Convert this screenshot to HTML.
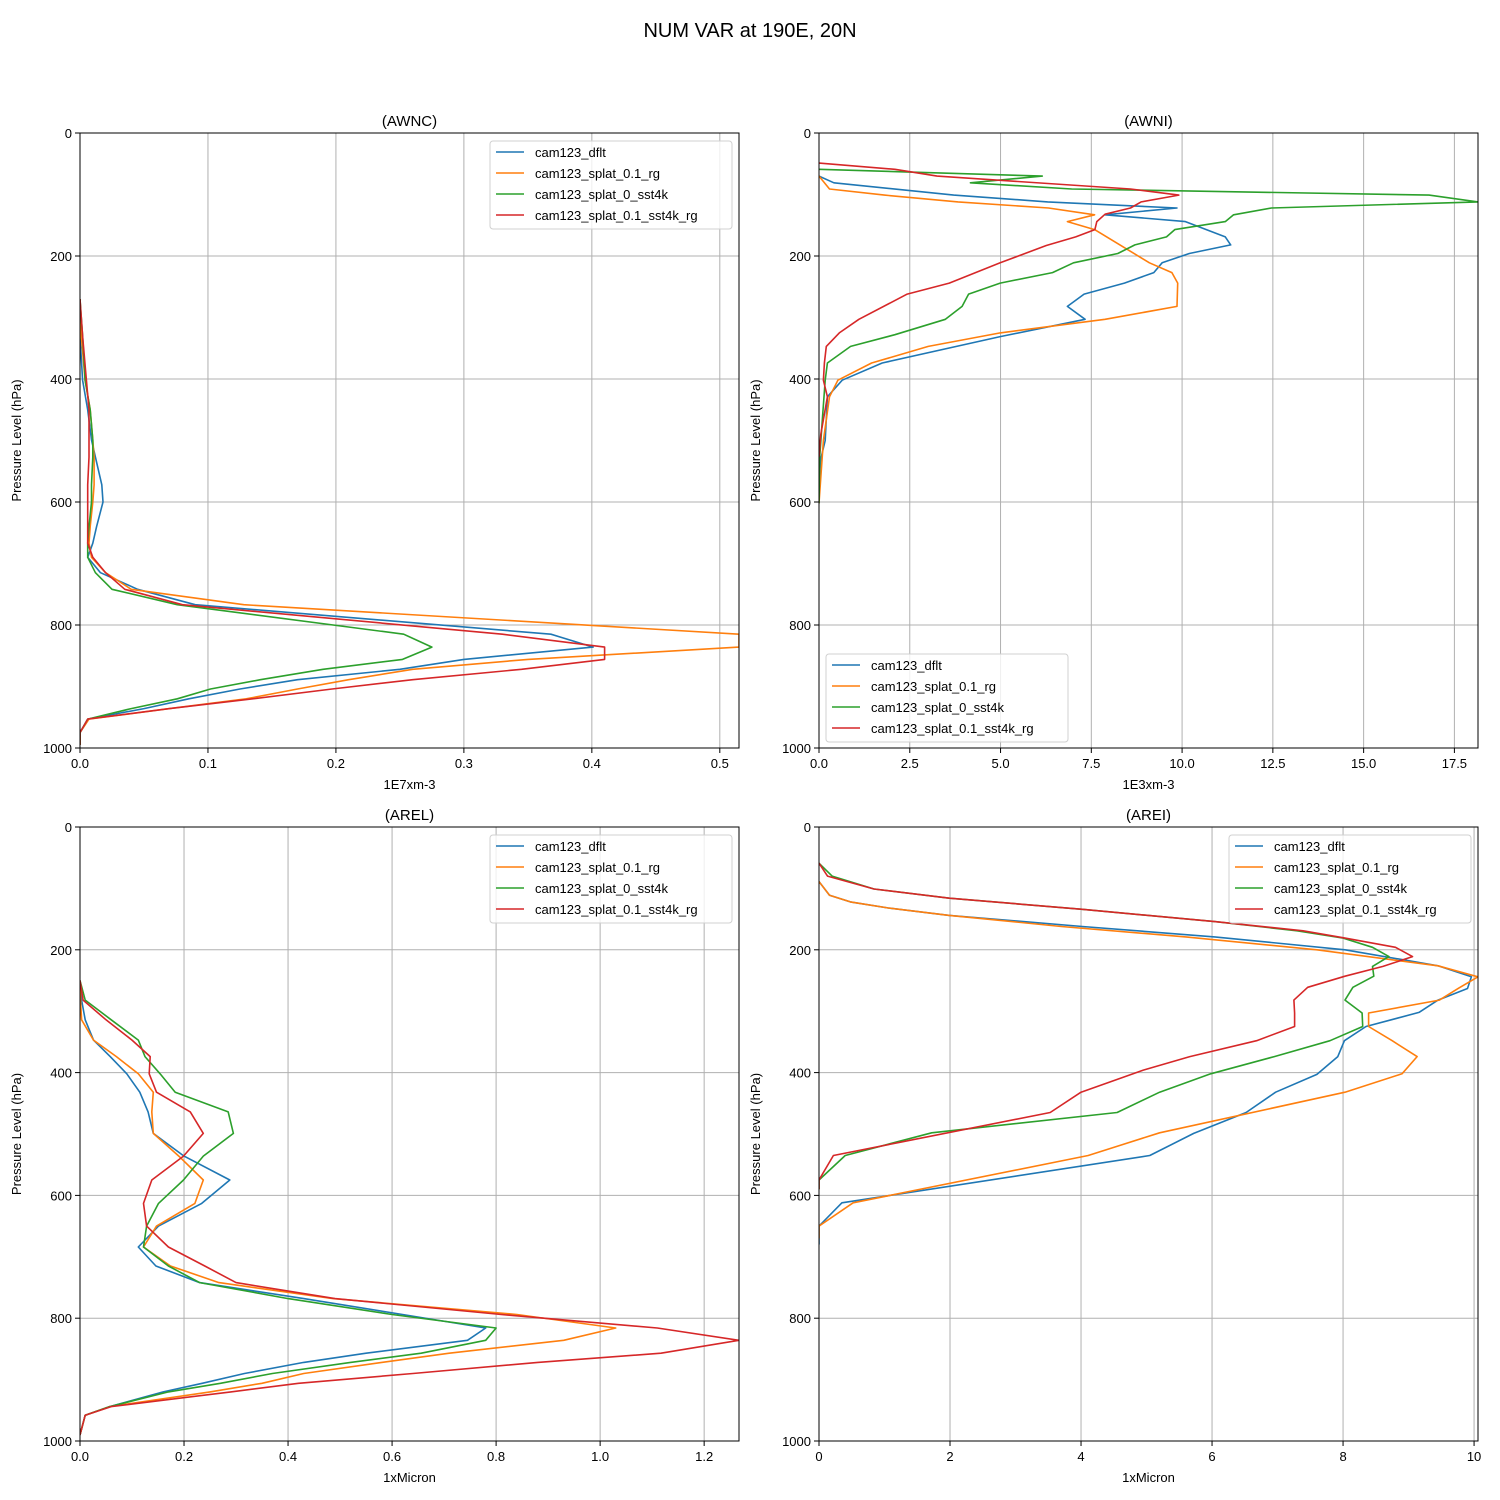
<!DOCTYPE html>
<html><head><meta charset="utf-8"><style>
html,body{margin:0;padding:0;background:#fff;}
svg{display:block;font-family:"Liberation Sans","DejaVu Sans",sans-serif;}
</style></head><body>
<svg id="fig" width="1500" height="1500" viewBox="0 0 1500 1500">
<rect width="1500" height="1500" fill="#fff"/>
<text x="750" y="37" font-size="20" text-anchor="middle">NUM VAR at 190E, 20N</text>
</svg>
<script>
// ---- AWNC data ----
const awncLevels=[270,330,402,450,499,527,572,600,640,667,690,715,742,767,815,836,856,872,889,904,920,936,953,975,995];
const awncBlue=[0,0,.002,.006,.009,.012,.017,.018,.013,.01,.006,.016,.045,.09,.368,.401,.3,.25,.17,.125,.085,.05,.006,0,0];
const awncOrange=[0,.001,.004,.008,.01,.011,.011,.01,.008,.007,.009,.02,.04,.128,.515,.515,.35,.26,.21,.17,.13,.07,.007,0,0];
const awncGreen=[0,.002,.004,.008,.01,.01,.009,.009,.007,.006,.006,.012,.025,.076,.253,.275,.252,.19,.141,.102,.076,.04,.006,0,0];
const awncRed=[0,.002,.005,.007,.007,.007,.006,.006,.006,.006,.01,.02,.035,.08,.33,.41,.41,.345,.26,.197,.135,.07,.006,0,0];
const awncTicks=[0,0.1,0.2,0.3,0.4,0.5];
const awncTickLabels=["0.0","0.1","0.2","0.3","0.4","0.5"];
// ---- AWNI data ----
const awniBlueP=[70,81,101,112,122,133,144,169,182,196,211,227,244,262,282,303,331,374,402,429,500,530,570,602];
const awniBlueV=[0,0.41,3.71,6.3,9.86,7.88,10.09,11.19,11.34,10.2,9.45,9.22,8.41,7.3,6.84,7.33,4.99,1.74,0.64,0.23,0.17,0.05,0,0];
const awniOrangeP=[70,91,101,112,122,133,144,157,211,227,244,282,303,325,347,374,402,429,500,602];
const awniOrangeV=[0,0.29,1.8,3.83,6.32,7.59,6.84,7.59,9.1,9.72,9.88,9.86,7.88,4.99,3.01,1.45,0.52,0.29,0.12,0];
const awniGreenP=[59,70,81,91,101,112,122,133,144,157,169,182,196,211,227,244,262,282,303,328,347,374,402,460,527,602];
const awniGreenV=[0,6.15,4.17,6.96,16.8,18.15,12.46,11.42,11.19,9.8,9.57,8.7,8.23,7.01,6.43,4.99,4.12,3.94,3.48,2.09,0.87,0.23,0.17,0.1,0.02,0];
const awniRedP=[49,59,70,91,101,112,122,132,144,157,169,183,211,244,262,303,325,347,374,402,429,490,527];
const awniRedV=[0,2.09,3.25,8.58,9.91,8.87,8.58,7.88,7.65,7.6,7.07,6.26,4.99,3.59,2.43,1.1,0.56,0.2,0.15,0.12,0.23,0.05,0];
const awniTicks=[0,2.5,5,7.5,10,12.5,15,17.5];
const awniTickLabels=["0.0","2.5","5.0","7.5","10.0","12.5","15.0","17.5"];
// ---- AREL data ----
const arelLevels=[250,282,314,347,374,402,432,464,499,536,575,613,650,684,715,742,768,794,816,836,857,872,890,906,920,944,958,990];
const arelBlue=[0,0.003,0.01,0.026,0.058,0.09,0.115,0.131,0.141,0.2,0.288,0.234,0.151,0.112,0.146,0.23,0.43,0.62,0.78,0.745,0.55,0.43,0.316,0.235,0.16,0.057,0.01,0];
const arelOrange=[0,0.001,0.003,0.026,0.07,0.112,0.141,0.138,0.141,0.19,0.237,0.221,0.147,0.122,0.174,0.267,0.486,0.84,1.03,0.93,0.71,0.58,0.43,0.35,0.25,0.057,0.01,0];
const arelGreen=[0,0.01,0.06,0.112,0.125,0.154,0.183,0.285,0.295,0.237,0.199,0.151,0.128,0.122,0.17,0.23,0.4,0.6,0.8,0.78,0.656,0.52,0.37,0.27,0.17,0.057,0.01,0];
const arelRed=[0,0.006,0.05,0.1,0.135,0.133,0.147,0.212,0.237,0.199,0.138,0.122,0.128,0.17,0.24,0.3,0.49,0.81,1.11,1.267,1.117,0.88,0.64,0.42,0.29,0.06,0.01,0];
const arelTicks=[0,0.2,0.4,0.6,0.8,1.0,1.2];
const arelTickLabels=["0.0","0.2","0.4","0.6","0.8","1.0","1.2"];
// ---- AREI data ----
const areiBlueP=[89,111,122,132,144,162,179,200,226,244,263,282,302,325,348,374,403,432,465,499,535,612,650,680];
const areiBlueV=[0,0.16,0.48,1.06,1.99,4.02,6.04,8.03,9.45,9.96,9.9,9.45,9.16,8.35,8.02,7.92,7.6,6.97,6.52,5.72,5.05,0.35,0,0];
const areiOrangeP=[89,111,122,132,144,162,179,200,226,244,262,282,303,325,348,374,402,432,498,535,612,650,670];
const areiOrangeV=[0,0.16,0.48,1.06,1.99,3.7,5.6,7.6,9.45,10.06,9.77,9.47,8.39,8.39,8.75,9.13,8.9,8.03,5.2,4.11,0.52,0,0];
const areiGreenP=[59,80,101,116,134,154,169,181,196,211,227,243,261,282,303,325,348,374,402,432,465,498,535,575,590];
const areiGreenV=[0,0.2,0.84,1.99,4.02,6.04,7.3,8.0,8.45,8.7,8.45,8.47,8.15,8.03,8.29,8.3,7.8,6.95,5.98,5.2,4.55,1.72,0.4,0,0];
const areiRedP=[59,80,101,116,134,154,169,181,196,211,227,243,261,282,303,325,348,374,396,432,465,535,575,590];
const areiRedV=[0,0.13,0.84,1.99,4.02,6.04,7.39,8.03,8.8,9.06,8.61,8.03,7.46,7.25,7.26,7.26,6.68,5.66,4.95,4.0,3.53,0.22,0,0];
const areiTicks=[0,2,4,6,8,10];
const areiTickLabels=["0","2","4","6","8","10"];
const yTicks=[0,200,400,600,800,1000];
const seriesNames=["cam123_dflt","cam123_splat_0.1_rg","cam123_splat_0_sst4k","cam123_splat_0.1_sst4k_rg"];
const colors=["#1f77b4","#ff7f0e","#2ca02c","#d62728"];

const NS="http://www.w3.org/2000/svg";
const fig=document.getElementById('fig');
function mk(tag,attrs,parent){const e=document.createElementNS(NS,tag);for(const k in attrs)e.setAttribute(k,attrs[k]);(parent||fig).appendChild(e);return e;}

function panel(id,title,box,xmax,xt,xtl,xlabel,series,legend){
  const g=mk('g',{});
  
  
  const sx=v=>box.x0+(v/xmax)*(box.x1-box.x0);
  const sy=p=>box.y0+(p/1000)*(box.y1-box.y0);
  xt.forEach((t,i)=>{
    const x=sx(t);
    const gl=mk('line',{x1:x,x2:x,y1:box.y0,y2:box.y1,stroke:'#b0b0b0','stroke-width':1},g);
    
    
    mk('line',{x1:x,x2:x,y1:box.y1,y2:box.y1+5,stroke:'#000','stroke-width':1},g);
    const tx=mk('text',{x:x,y:box.y1+20,'font-size':13,'text-anchor':'middle'},g);
    tx.textContent=xtl[i];
    
    
  });
  yTicks.forEach(t=>{
    const y=sy(t);
    const gl=mk('line',{x1:box.x0,x2:box.x1,y1:y,y2:y,stroke:'#b0b0b0','stroke-width':1},g);
    
    
    mk('line',{x1:box.x0-5,x2:box.x0,y1:y,y2:y,stroke:'#000','stroke-width':1},g);
    const tx=mk('text',{x:box.x0-8,y:y+5,'font-size':13,'text-anchor':'end'},g);
    tx.textContent=String(t);
    
    
  });
  const cp=mk('clipPath',{id:'clip-'+id},g);
  mk('rect',{x:box.x0,y:box.y0,width:box.x1-box.x0,height:box.y1-box.y0},cp);
  series.forEach((s,i)=>{
    const d=s.p.map((p,j)=>(j?'L':'M')+sx(s.v[j]).toFixed(1)+' '+sy(p).toFixed(1)).join(' ');
    const path=mk('path',{d:d,fill:'none',stroke:colors[i],'stroke-width':1.6,'stroke-linejoin':'round','clip-path':'url(#clip-'+id+')'},g);
    
    
  });
  const fr=mk('rect',{x:box.x0,y:box.y0,width:box.x1-box.x0,height:box.y1-box.y0,fill:'none',stroke:'#000','stroke-width':1},g);
  
  
  const tt=mk('text',{x:(box.x0+box.x1)/2,y:box.y0-7,'font-size':15,'text-anchor':'middle'},g);
  tt.textContent=title;
  
  
  const xl=mk('text',{x:(box.x0+box.x1)/2,y:box.y1+41,'font-size':13,'text-anchor':'middle'},g);
  xl.textContent=xlabel;
  
  
  const yc=(box.y0+box.y1)/2, yx=box.x0-59;
  const yl=mk('text',{x:yx,y:yc,'font-size':13,'text-anchor':'middle',transform:'rotate(-90 '+yx+' '+yc+')'},g);
  yl.textContent='Pressure Level (hPa)';
  
  
  const lg=mk('g',{},g);
  
  
  mk('rect',{x:legend.x,y:legend.y,width:242,height:88,rx:3,fill:'#fff','fill-opacity':0.8,stroke:'#d0d0d0','stroke-width':1},lg);
  seriesNames.forEach((n,i)=>{
    const y=legend.y+11+i*21;
    const e=mk('g',{},lg);
    
    
    mk('line',{x1:legend.x+6,x2:legend.x+34,y1:y,y2:y,stroke:colors[i],'stroke-width':1.6},e);
    const t=mk('text',{x:legend.x+45,y:y+5,'font-size':13},e);
    t.textContent=n;
  });
}

panel('awnc','(AWNC)',{x0:80,x1:739,y0:133,y1:748},0.515,awncTicks,awncTickLabels,'1E7xm-3',
  [{p:awncLevels,v:awncBlue},{p:awncLevels,v:awncOrange},{p:awncLevels,v:awncGreen},{p:awncLevels,v:awncRed}],{x:490,y:141});
panel('awni','(AWNI)',{x0:819,x1:1478,y0:133,y1:748},18.15,awniTicks,awniTickLabels,'1E3xm-3',
  [{p:awniBlueP,v:awniBlueV},{p:awniOrangeP,v:awniOrangeV},{p:awniGreenP,v:awniGreenV},{p:awniRedP,v:awniRedV}],{x:826,y:654});
panel('arel','(AREL)',{x0:80,x1:739,y0:827,y1:1441},1.267,arelTicks,arelTickLabels,'1xMicron',
  [{p:arelLevels,v:arelBlue},{p:arelLevels,v:arelOrange},{p:arelLevels,v:arelGreen},{p:arelLevels,v:arelRed}],{x:490,y:835});
panel('arei','(AREI)',{x0:819,x1:1478,y0:827,y1:1441},10.06,areiTicks,areiTickLabels,'1xMicron',
  [{p:areiBlueP,v:areiBlueV},{p:areiOrangeP,v:areiOrangeV},{p:areiGreenP,v:areiGreenV},{p:areiRedP,v:areiRedV}],{x:1229,y:835});
</script>
</body></html>
